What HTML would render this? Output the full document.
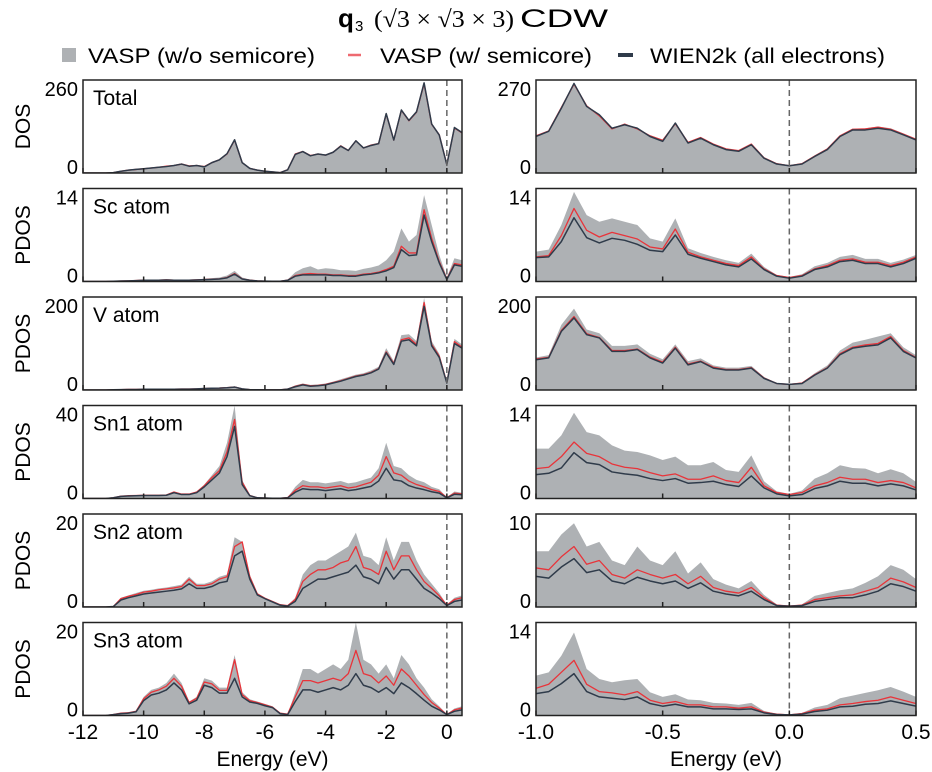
<!DOCTYPE html>
<html><head><meta charset="utf-8"><style>
html,body{margin:0;padding:0;background:#fff;}
svg{display:block;font-family:"Liberation Sans Narrow","Liberation Sans",sans-serif;}
</style></head><body>
<svg id="fig" width="932" height="772" viewBox="0 0 932 772" xmlns="http://www.w3.org/2000/svg">
<g>
<text x="338" y="27" font-size="26" font-weight="bold" font-family="Liberation Sans, sans-serif">q</text>
<text x="355" y="31" font-size="15" font-family="Liberation Sans, sans-serif">3</text>
<text x="374" y="27" font-size="24" font-family="Liberation Serif, serif" textLength="140" lengthAdjust="spacingAndGlyphs">(√3 × √3 × 3)</text>
<text x="520" y="27" font-size="25" textLength="88" lengthAdjust="spacingAndGlyphs">CDW</text>
</g>
<g>
<rect x="62" y="48" width="14" height="14" fill="#aeb1b4"/>
<text x="88" y="63" font-size="21" textLength="227" lengthAdjust="spacingAndGlyphs">VASP (w/o semicore)</text>
<line x1="348" y1="55" x2="361" y2="55" stroke="#ee6a70" stroke-width="2.5"/>
<text x="380" y="63" font-size="21" textLength="212" lengthAdjust="spacingAndGlyphs">VASP (w/ semicore)</text>
<line x1="618" y1="55" x2="633" y2="55" stroke="#2f3b4a" stroke-width="4"/>
<text x="650" y="63" font-size="21" textLength="235" lengthAdjust="spacingAndGlyphs">WIEN2k (all electrons)</text>
</g>
<g id="plots"></g>
</svg>
<script>
// ---- Left column data: energies -12..0.5 step 0.25 ----
const L_energy_start=-12, L_energy_step=0.25;
const L_total_gray=[0,0,0,0,1,5,8,10,12,14,17,19,22,26,20,22,18,30,38,55,95,30,14,8,5,3,1,10,55,62,50,55,52,60,78,65,92,72,80,85,170,95,180,150,175,255,140,110,25,130,115];
const L_total_red=[0,0,0,0,1,5,8,10,12,14,16,19,21,25,20,21,18,29,37,53,92,29,13,8,5,3,1,9,53,60,49,53,50,58,76,63,90,70,78,82,165,92,175,146,170,250,136,107,24,126,112];
const L_total_dark=[0,0,0,0,1,5,8,10,12,14,16,18,21,25,19,21,17,29,37,54,93,29,13,8,5,3,1,9,52,60,48,53,50,58,75,63,90,70,77,82,166,92,176,147,171,252,137,106,23,127,113];
const L_sc_gray=[0,0,0,0,0.05,0.1,0.15,0.2,0.3,0.3,0.3,0.35,0.3,0.3,0.3,0.35,0.4,0.5,0.6,0.9,1.6,0.6,0.3,0.15,0.1,0.05,0.05,0.3,1.4,2,2.3,1.8,2,1.9,1.7,1.7,1.6,1.9,2.1,2.4,3.2,4.5,8,6,7,13,8.5,4,0.6,3.5,3.2];
const L_sc_red=[0,0,0,0,0.03,0.08,0.1,0.15,0.2,0.2,0.2,0.25,0.2,0.2,0.2,0.25,0.3,0.35,0.4,0.6,1.2,0.4,0.2,0.1,0.05,0.03,0.03,0.2,0.9,1.1,1.2,1.1,1.1,1.0,1.0,0.9,0.9,1.1,1.2,1.4,1.8,2.3,5.3,4.3,4.3,10.8,6.5,3,0.4,2.7,2.5];
const L_sc_dark=[0,0,0,0,0.03,0.07,0.1,0.14,0.18,0.18,0.18,0.22,0.18,0.18,0.18,0.22,0.28,0.32,0.37,0.55,1.1,0.37,0.18,0.09,0.05,0.03,0.03,0.18,0.8,1.0,1.0,1.0,1.0,0.9,0.9,0.8,0.8,1.0,1.1,1.3,1.6,2.1,4.8,3.9,4.0,10.0,6.0,2.8,0.3,2.5,2.3];
const L_v_gray=[0,0,0,0,0.5,1,1.5,1.5,2,2,2,2,2,2.5,2.5,3,4,4.5,5,6,8,3,1,0.5,0.3,0.2,0.3,2.5,10,14,11,12,14,18,23,28,33,36,42,50,90,62,118,120,105,198,105,78,18,110,98];
const L_v_red=[0,0,0,0,0.4,0.8,1.2,1.3,1.6,1.7,1.7,1.8,1.7,2,2,2.5,3.3,3.8,4.2,5,6.5,2.5,0.8,0.4,0.2,0.2,0.2,2,8,12,9,10,12,16,20,25,30,33,38,46,82,57,108,112,98,188,98,73,16,104,92];
const L_v_dark=[0,0,0,0,0.4,0.8,1.1,1.2,1.5,1.6,1.6,1.7,1.6,1.9,1.9,2.4,3.2,3.7,4.1,4.9,6.3,2.4,0.8,0.4,0.2,0.2,0.2,1.9,7,11,8,9,11,15,19,24,29,32,37,45,80,55,105,108,95,180,95,70,15,100,90];
const L_sn1_gray=[0,0,0,0,0.3,1,1.2,1.4,1.5,1.5,1.5,1.6,3,2,2,3,6,10,14,24,40,8,1.5,0.4,0.2,0.1,0.1,0.5,5,8,7,7,6.5,7,7.5,6.5,7,8,9,13,24,14,13,10,8,7,5,4,0.5,3,2.5];
const L_sn1_red=[0,0,0,0,0.3,1,1.2,1.3,1.4,1.4,1.4,1.5,2.8,1.9,1.9,2.8,5.5,9,12,20,34,7,1.3,0.3,0.2,0.1,0.1,0.4,3.5,5.5,5,5,4.5,5,5.5,4.5,5,6,7,10,18,11,10,7.5,6,5,3.8,3,0.4,2.3,2];
const L_sn1_dark=[0,0,0,0,0.3,0.9,1.1,1.2,1.3,1.3,1.3,1.4,2.5,1.7,1.7,2.5,5,8,11,18,31,6,1.2,0.3,0.2,0.1,0.1,0.3,2.7,4.2,3.8,3.8,3.4,3.8,4.2,3.4,3.8,4.5,5.2,7.5,13,8,7.5,5.5,4.5,3.8,2.9,2.3,0.3,1.8,1.6];
const L_sn2_gray=[0,0,0,0,0.1,2,2.5,3,3.5,3.7,4,4.2,4.5,4.8,6.5,5,5,5.5,6.5,7,15,14,7,3,2,1.3,0.5,0.3,2,7,9,10,10,11,12,13,16,11,10.5,9,15,10,14,14,10,7,5,3,0.5,2,2.5];
const L_sn2_red=[0,0,0,0,0.1,1.8,2.3,2.7,3.2,3.4,3.7,3.9,4.1,4.4,6,4.6,4.6,5,6,6.5,13,14,6.5,2.8,1.9,1.2,0.5,0.3,1.6,5.5,7,8,8,8.5,9.5,10,13,8.5,8,7,12,8,11,11,8,5.5,4,2.4,0.4,1.6,2];
const L_sn2_dark=[0,0,0,0,0.1,1.5,2,2.4,2.8,3,3.2,3.4,3.6,3.9,5,4,4,4.4,5.2,5.5,11,12,6,2.6,1.8,1.1,0.4,0.2,1.2,4,5,6,6,6.5,7,7.5,9,6.5,6,5,8.5,6,8,8,6,4,3,1.8,0.3,1.2,1.5];
const L_sn3_gray=[0,0,0,0,0.2,0.5,0.6,1,4,5.5,6,7,9,7,3,4,8,7.5,6,6,13,5,3.5,3,2.5,2,0.5,0.3,5,10,10,9,10,11,10,12,20,12,11,9,11,8,13,11,8,6,3.5,2,0.3,1.5,2];
const L_sn3_red=[0,0,0,0,0.2,0.5,0.6,0.9,3.6,5,5.5,6.3,8,6.3,2.8,3.7,7.2,6.8,5.4,5.4,12,4.5,3.2,2.8,2.3,1.8,0.5,0.3,4,7.5,7.5,7,7.5,8,7.5,9,14,9,8.5,7,8.5,6.5,10,8.5,6.5,4.5,2.8,1.6,0.2,1.2,1.6];
const L_sn3_dark=[0,0,0,0,0.2,0.4,0.5,0.8,3.2,4.4,4.8,5.5,7,5.5,2.5,3.3,6.5,6,4.8,4.8,8,4,2.9,2.6,2.1,1.7,0.4,0.2,3,5.5,5.5,5,5.5,6,5.5,6.5,9,6.5,6,5,6,4.7,7,6,4.7,3.3,2,1.2,0.2,0.9,1.2];
// ---- Right column data: energies -1.0..0.5 step 0.05 ----
const R_energy_start=-1, R_energy_step=0.05;
const R_total_gray=[106,120,185,255,190,170,132,142,132,108,94,140,90,102,84,70,66,82,46,28,22,28,50,70,108,128,130,135,130,115,98];
const R_total_red=[108,122,190,258,195,166,128,142,128,108,95,143,89,103,84,70,65,84,44,27,21,27,49,70,108,127,128,133,127,113,98];
const R_total_dark=[106,121,188,260,193,169,130,140,130,106,92,145,87,101,82,68,63,82,43,26,21,26,48,68,106,125,125,130,125,111,96];
const R_sc_gray=[4.5,4.8,8.5,13.5,10,9,9.5,9,8.5,6.5,6,9.5,5,4.3,3.7,3.2,2.8,4.2,2.2,1.0,0.7,1.1,2.3,2.8,3.7,4,3.4,3.4,2.8,3.3,4];
const R_sc_red=[3.7,3.9,6.9,11,7.7,6.7,7.4,6.9,6.4,5.2,4.9,7.9,4.4,3.7,3.2,2.7,2.4,3.7,1.9,0.9,0.6,0.9,1.9,2.4,3.2,3.4,2.9,2.9,2.4,2.9,3.7];
const R_sc_dark=[3.6,3.7,6,9.6,6.6,5.8,6.5,6.2,5.6,4.7,4.5,7,4.1,3.5,3,2.5,2.2,3.4,1.8,0.8,0.5,0.8,1.8,2.2,3,3.2,2.7,2.7,2.2,2.7,3.5];
const R_v_gray=[70,75,140,175,130,122,95,95,98,78,66,98,62,68,53,48,48,52,28,15,13,16,36,53,85,102,108,115,122,92,75];
const R_v_red=[67,70,128,158,121,113,85,85,88,71,60,92,56,62,49,44,44,48,26,14,12,15,33,48,78,92,97,100,115,85,70];
const R_v_dark=[65,69,126,155,119,112,83,83,87,69,58,90,54,61,47,43,43,47,25,14,12,14,32,47,76,90,94,97,112,83,69];
const R_sn1_gray=[7.5,7.5,9.5,12.9,10,9.5,8,7.2,7,6.5,5.8,6.3,5,5,5.5,4.3,4,6.5,2.6,1.1,0.7,1.2,3,3.8,5,4.6,4.5,3.8,4.4,3.8,2.5];
const R_sn1_red=[4.5,4.7,6.3,8.5,6.8,6.3,5.2,4.7,4.5,3.9,3.4,3.7,2.9,2.9,3.4,2.7,2.4,4.7,1.9,0.9,0.6,0.9,1.9,2.4,3.2,2.9,2.9,2.4,2.7,2.4,1.6];
const R_sn1_dark=[3.6,3.8,4.6,6.9,5.4,5.1,4.0,3.7,3.5,3.0,2.7,3.0,2.3,2.4,2.6,2.1,1.8,3.4,1.6,0.7,0.4,0.6,1.5,1.9,2.6,2.3,2.3,1.9,2.2,1.9,1.3];
const R_sn2_gray=[6,6,7.8,9,6.5,7,5,4.5,6.5,5,4.5,6,3.6,4.8,3,2.4,2,2.8,1.3,0.3,0.1,0.3,1.2,1.5,1.8,2,2.6,3.3,4.5,4,3];
const R_sn2_red=[4.2,4.0,5.4,6.5,4.6,5.0,3.5,3.1,4.0,3.5,3.1,3.5,2.5,3.3,2.1,1.7,1.5,2.1,1.0,0.2,0.1,0.2,0.8,1.0,1.2,1.3,1.7,2.1,3.1,2.7,2.1];
const R_sn2_dark=[3.3,3.1,4.3,5.2,3.7,4.0,2.8,2.5,3.2,2.8,2.5,2.8,2.0,2.6,1.7,1.4,1.2,1.7,0.8,0.15,0.1,0.15,0.6,0.8,1.0,1.0,1.3,1.7,2.5,2.2,1.7];
const R_sn3_gray=[6,6.5,9,12.5,7,5.5,5,5.3,5.5,3.5,2.8,3.2,2.4,2.3,1.9,1.8,1.6,1.9,0.7,0.25,0.1,0.4,1.2,1.6,2.6,3,3.4,3.8,4.3,3.6,2.8];
const R_sn3_red=[4.1,4.7,6.5,8.3,4.7,3.6,3.4,3.1,3.6,2.3,1.8,2.1,1.6,1.6,1.3,1.3,1.1,1.3,0.5,0.2,0.1,0.3,0.8,1.0,1.6,1.8,2.1,2.3,2.8,2.3,1.8];
const R_sn3_dark=[3.3,3.6,4.8,6.3,3.6,2.8,2.6,2.4,2.8,1.8,1.4,1.7,1.3,1.3,1.0,1.0,0.9,1.0,0.4,0.15,0.1,0.2,0.6,0.8,1.3,1.4,1.7,1.8,2.2,1.8,1.4];
// ---- labels / axis ranges ----
const panelLabels=["Total","Sc atom","V atom","Sn1 atom","Sn2 atom","Sn3 atom"];
const panelSlugs=["total","sc","v","sn1","sn2","sn3"];
const yAxisTitles=["DOS","PDOS","PDOS","PDOS","PDOS","PDOS"];
const leftYMax=[260,14,200,40,20,20];
const rightYMax=[270,14,200,14,10,14];
const leftXTicks=[-12,-10,-8,-6,-4,-2,0];
const leftXTickLabels=["-12","-10","-8","-6","-4","-2","0"];
const rightXTicks=[-1,-0.5,0,0.5];
const rightXTickLabels=["-1.0","-0.5","0.0","0.5"];
const leftSeries=[[L_total_gray,L_total_red,L_total_dark],[L_sc_gray,L_sc_red,L_sc_dark],[L_v_gray,L_v_red,L_v_dark],[L_sn1_gray,L_sn1_red,L_sn1_dark],[L_sn2_gray,L_sn2_red,L_sn2_dark],[L_sn3_gray,L_sn3_red,L_sn3_dark]];
const rightSeries=[[R_total_gray,R_total_red,R_total_dark],[R_sc_gray,R_sc_red,R_sc_dark],[R_v_gray,R_v_red,R_v_dark],[R_sn1_gray,R_sn1_red,R_sn1_dark],[R_sn2_gray,R_sn2_red,R_sn2_dark],[R_sn3_gray,R_sn3_red,R_sn3_dark]];

const NS="http://www.w3.org/2000/svg";
const root=document.getElementById('plots');
const rowTops=[80,188.5,297,405.5,514,622.5];
const PH=93;
const cols=[
 {x0:83,x1:462,emin:-12,emax:0.5,start:L_energy_start,step:L_energy_step,series:leftSeries,ymax:leftYMax,ticks:leftXTicks,tl:leftXTickLabels,side:'left'},
 {x0:536,x1:916,emin:-1,emax:0.5,start:R_energy_start,step:R_energy_step,series:rightSeries,ymax:rightYMax,ticks:rightXTicks,tl:rightXTickLabels,side:'right'}
];
function mk(tag,attrs,parent){const e=document.createElementNS(NS,tag);for(const k in attrs)e.setAttribute(k,attrs[k]);(parent||root).appendChild(e);return e;}

cols.forEach((c,ci)=>{
  const xs=e=>c.x0+(e-c.emin)/(c.emax-c.emin)*(c.x1-c.x0);
  for(let r=0;r<6;r++){
    const top=rowTops[r],bot=top+PH,ym=c.ymax[r];
    const ys=v=>bot-Math.min(v,ym*1.02)/ym*PH;
    const g=mk('g',{});
    
    
    const cp=mk('clipPath',{id:'cp'+ci+r},g);
    mk('rect',{x:c.x0,y:top,width:c.x1-c.x0,height:PH},cp);
    const pg=mk('g',{'clip-path':'url(#cp'+ci+r+')'},g);
    const [gray,red,dark]=c.series[r];
    const pts=(arr)=>arr.map((v,i)=>xs(c.start+i*c.step).toFixed(2)+','+ys(v).toFixed(2));
    const gp=pts(gray);
    const area=mk('path',{d:'M'+xs(c.start).toFixed(2)+','+bot+' L'+gp.join(' L')+' L'+xs(c.start+(gray.length-1)*c.step).toFixed(2)+','+bot+' Z',fill:'#aeb1b4'},pg);
    
    
    const rl=mk('polyline',{points:pts(red).join(' '),fill:'none',stroke:'#e8343a','stroke-width':1.3,'stroke-linejoin':'round'},pg);
    
    
    const dl=mk('polyline',{points:pts(dark).join(' '),fill:'none',stroke:'#2f3b4a','stroke-width':1.5,'stroke-linejoin':'round'},pg);
    
    
    const fl=mk('line',{x1:xs(0),x2:xs(0),y1:top,y2:bot,stroke:'#666','stroke-width':1.5,'stroke-dasharray':'6,4'},g);
    
    
    c.ticks.forEach(t=>{
      const tk=mk('line',{x1:xs(t),x2:xs(t),y1:bot,y2:bot-5,stroke:'#222','stroke-width':1.5},g);
      
      
    });
    const fr=mk('rect',{x:c.x0,y:top,width:c.x1-c.x0,height:PH,fill:'none',stroke:'#222','stroke-width':1.5},g);
    
    
    const ty=mk('text',{x:c.x0-5,y:top+16,'font-size':20,'text-anchor':'end'},g);
    ty.textContent=String(ym);
    
    
    const t0=mk('text',{x:c.x0-5,y:bot+1,'font-size':20,'text-anchor':'end'},g);
    t0.textContent='0';
    
    
    if(ci===0){
      const lb=mk('text',{x:93,y:top+25,'font-size':21},g);
      lb.textContent=panelLabels[r];
      
      
      const yt=mk('text',{x:0,y:0,'font-size':21,'text-anchor':'middle',transform:'translate(30,'+(top+PH/2)+') rotate(-90)'},g);
      yt.textContent=yAxisTitles[r];
      
      
    }
  }
  c.ticks.forEach((t,i)=>{
    const tl=mk('text',{x:xs(t),y:739,'font-size':21,'text-anchor':'middle'});
    tl.textContent=c.tl[i];
    
    
  });
  const xt=mk('text',{x:(c.x0+c.x1)/2,y:766,'font-size':21,'text-anchor':'middle'});
  xt.textContent='Energy (eV)';
  
  
});
</script>
</body></html>
